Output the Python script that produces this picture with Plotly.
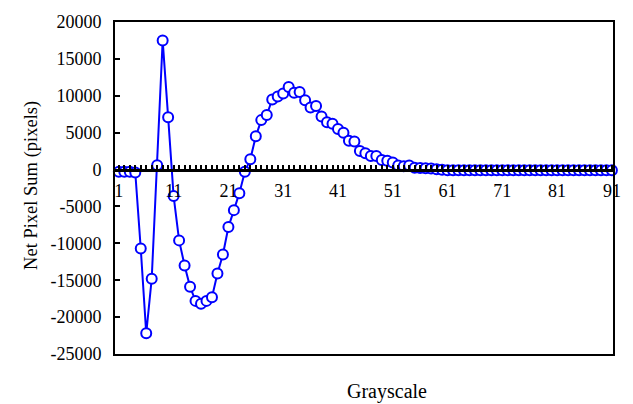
import plotly.graph_objects as go

grayscale = list(range(1, 92))
net_pixel_sum = [
    -300, -300, -300, -400, -10700, -22200, -14800, 600, 17500, 7100,
    -3600, -9600, -13000, -15900, -17800, -18200, -17800, -17300, -14100, -11500,
    -7800, -5500, -3200, -300, 1400, 4500, 6700, 7400, 9500, 9900,
    10300, 11200, 10400, 10500, 9400, 8400, 8600, 7200, 6400, 6200,
    5500, 5000, 3900, 3800, 2500, 2200, 1850, 1850, 1300, 1200,
    950, 550, 450, 550, 250, 220, 190, 130, 40, -20,
    -80, -90, -90, -90, -90, -90, -90, -90, -90, -90,
    -90, -90, -90, -90, -90, -90, -90, -90, -90, -90,
    -90, -90, -90, -90, -90, -90, -90, -90, -90, -90,
    -90,
]
x_tick_vals = [1, 11, 21, 31, 41, 51, 61, 71, 81, 91]
y_tick_vals = [20000, 15000, 10000, 5000, 0, -5000, -10000, -15000, -20000, -25000]

FONT = "Liberation Serif"
YMIN, YMAX = -25000, 20000
XR = [0.3, 91.2]

fig = go.Figure()
fig.add_trace(go.Scatter(
    x=grayscale, y=net_pixel_sum, mode="lines+markers",
    line=dict(color="#0000FF", width=2),
    marker=dict(symbol="circle", size=10, color="white",
                line=dict(color="#0000FF", width=2)),
    showlegend=False, cliponaxis=False,
))

fig.update_layout(
    width=633, height=404,
    margin=dict(l=115, r=15, t=14, b=50),
    paper_bgcolor="white", plot_bgcolor="white",
    font=dict(family=FONT, size=18, color="black"),
    xaxis=dict(range=XR, showgrid=False, zeroline=False,
               showline=True, mirror=True, linecolor="black", linewidth=1.5,
               ticks="", showticklabels=False),
    xaxis2=dict(range=XR, overlaying="x", anchor="free",
                position=(0 - YMIN) / (YMAX - YMIN), side="bottom",
                showgrid=False, zeroline=False, showline=True,
                linecolor="black", linewidth=2.5,
                tickmode="array", tickvals=x_tick_vals,
                ticktext=[str(v) for v in x_tick_vals],
                ticks="inside", ticklen=4, tickwidth=1.5, tickcolor="black",
                ticklabelstandoff=4,
                minor=dict(dtick=1, tick0=1, ticks="inside", ticklen=4,
                           tickwidth=1.5, tickcolor="black", showgrid=False),
                tickfont=dict(family=FONT, size=18, color="black")),
    yaxis=dict(range=[YMIN, YMAX], tickmode="array", tickvals=y_tick_vals,
               ticktext=[str(v) for v in y_tick_vals],
               showgrid=False, zeroline=False, showline=True, mirror=True,
               linecolor="black", linewidth=2, ticks="inside", ticklen=5,
               tickwidth=1.5, tickcolor="black", ticklabelstandoff=8,
               tickfont=dict(family=FONT, size=18, color="black")),
)
# dummy trace to activate xaxis2
fig.add_trace(go.Scatter(x=[None], y=[None], xaxis="x2", showlegend=False))

fig.add_annotation(text="Grayscale", xref="paper", yref="paper",
                   x=(390 - 115) / (618 - 115), y=-(392 - 354) / (354 - 14),
                   xanchor="center", yanchor="middle", showarrow=False,
                   font=dict(family=FONT, size=20, color="black"))
fig.add_annotation(text="Net Pixel Sum (pixels)", xref="paper", yref="paper",
                   x=-(115 - 30) / (618 - 115), y=0.5 - (181 - 184) / 340.0,
                   xanchor="center", yanchor="middle", textangle=-90, showarrow=False,
                   font=dict(family=FONT, size=18.5, color="black"))

fig.write_html("out.html")
